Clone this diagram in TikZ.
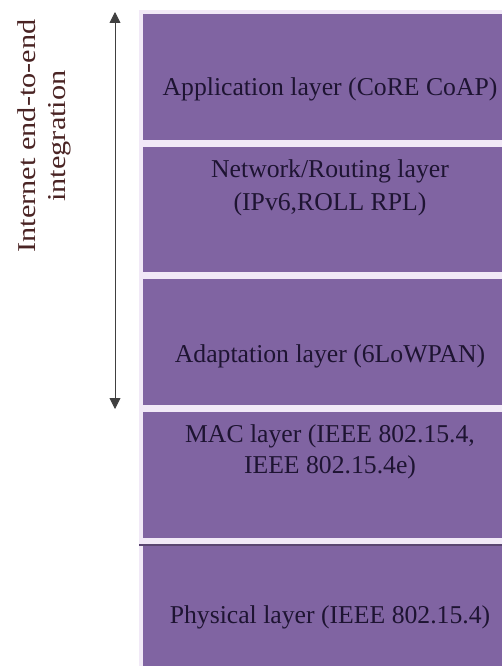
\documentclass[tikz,border=0pt]{standalone}
\usepackage{fontspec}
\setmainfont{Liberation Serif}
\usetikzlibrary{arrows.meta}
\definecolor{layerpurple}{HTML}{8064A2}
\definecolor{gaplav}{HTML}{F1E9F7}
\definecolor{layertext}{HTML}{1E1432}
\definecolor{sidetext}{HTML}{4A2424}
\begin{document}
\begin{tikzpicture}[x=1pt,y=-1pt,
  layer/.style={fill=layerpurple,draw=none,minimum width=359pt,anchor=north west,inner sep=0pt},
  ltext/.style={text=layertext,font=\fontsize{25.7}{32}\selectfont,anchor=base,inner sep=0pt},
  sidelabel/.style={rotate=90,anchor=base,inner sep=0pt,text=sidetext,font=\fontsize{25.7}{32}\selectfont}]
\useasboundingbox (0,0) rectangle (502,666);
\fill[gaplav] (139,10) rectangle (502,666);
\node[layer,minimum height=126pt] (app) at (143,14) {};
\node[layer,minimum height=125pt] (net) at (143,147) {};
\node[layer,minimum height=126pt] (adapt) at (143,279) {};
\node[layer,minimum height=126pt] (mac) at (143,412) {};
\node[layer,minimum height=121pt] (phy) at (143,545) {};
\draw[layerpurple!70!black,line width=1.5pt] (139,545) -- (502,545);
\node[ltext] (apptext) at (330,96) {Application layer (CoRE CoAP)};
\node[ltext] (nettext1) at (330,177) {Network/Routing layer};
\node[ltext] (nettext2) at (330,210) {(IPv6,ROLL RPL)};
\node[ltext] (adapttext) at (330,362) {Adaptation layer (6LoWPAN)};
\node[ltext] (mactext1) at (330,442) {MAC layer (IEEE 802.15.4,};
\node[ltext] (mactext2) at (330,473) {IEEE 802.15.4e)};
\node[ltext] (phytext) at (330,623) {Physical layer (IEEE 802.15.4)};
\coordinate (atop) at (115,12);
\coordinate (abot) at (115,409);
\draw[{Triangle[length=11pt,width=11pt]}-{Triangle[length=11pt,width=11pt]},line width=0.9pt,black!75] (atop) -- (abot);
\node[sidelabel] (side1) at (35,136) {\scalebox{1.18}[1]{Internet end-to-end}};
\node[sidelabel] (side2) at (65,136) {\scalebox{1.18}[1]{integration}};
\end{tikzpicture}
\end{document}
